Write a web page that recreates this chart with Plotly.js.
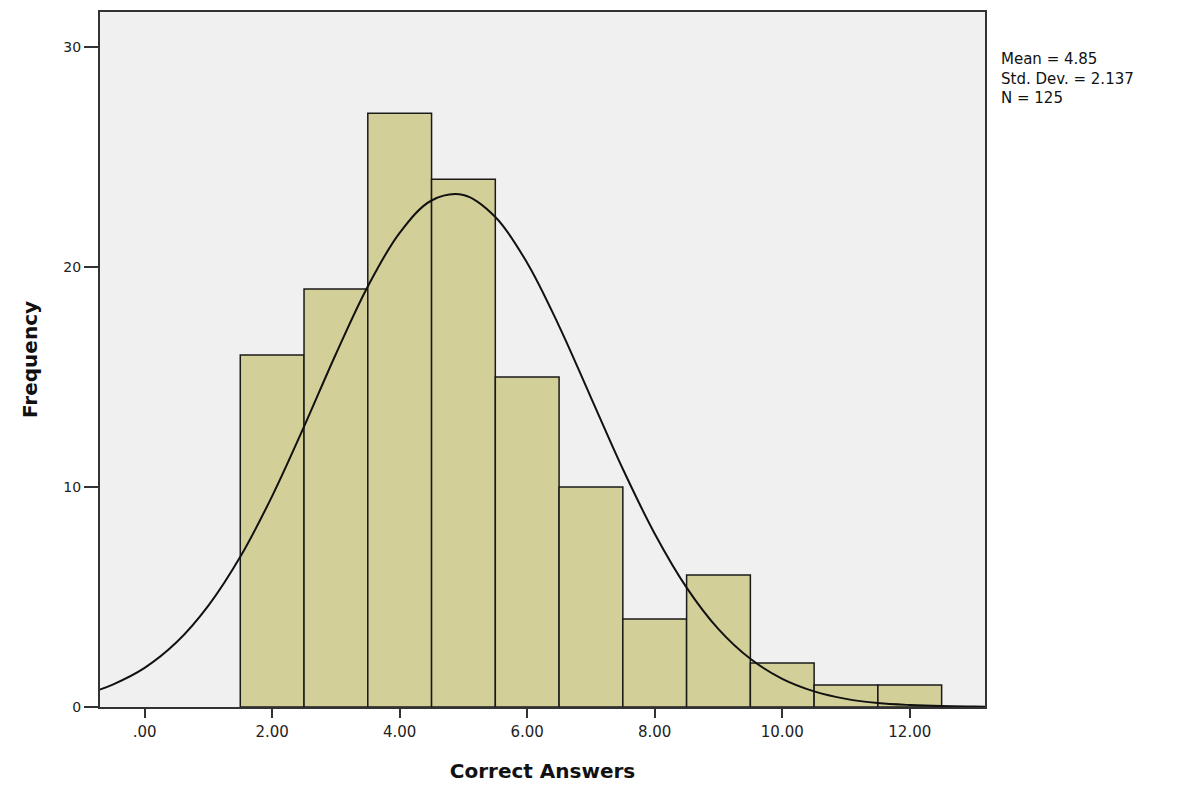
<!DOCTYPE html>
<html>
<head>
<meta charset="utf-8">
<script src="https://cdn.plot.ly/plotly-3.0.1.min.js"></script>
<style>html,body{margin:0;padding:0;background:#fff;}#chart{width:1180px;height:785px;}</style>
</head>
<body>
<div id="chart"></div>
<script>
// Histogram bins (centers) and frequencies
const binCenters = [2, 3, 4, 5, 6, 7, 8, 9, 10, 11, 12];
const frequencies = [16, 19, 27, 24, 15, 10, 4, 6, 2, 1, 1];

// Normal curve points
const curveX = [-0.75, -0.5, 0, 0.5, 1, 1.5, 2, 2.5, 3, 3.5, 4, 4.5, 5, 5.5, 6, 6.5, 7, 7.5, 8, 8.5, 9, 9.5, 10, 10.5, 11, 11.5, 12, 12.5, 13, 13.5];
const curveY = [0.75, 1.02, 1.78, 2.94, 4.61, 6.83, 9.59, 12.75, 16.05, 19.12, 21.56, 23.03, 23.28, 22.28, 20.19, 17.32, 14.07, 10.82, 7.88, 5.43, 3.54, 2.19, 1.28, 0.71, 0.37, 0.18, 0.09, 0.04, 0.02, 0.01];

const xTickVals = [0, 2, 4, 6, 8, 10, 12];
const xTickText = ['.00', '2.00', '4.00', '6.00', '8.00', '10.00', '12.00'];
const yTickVals = [0, 10, 20, 30];

const statsLines = ['Mean = 4.85', 'Std. Dev. = 2.137', 'N = 125'];

const traces = [
  {
    type: 'bar',
    x: binCenters,
    y: frequencies,
    width: 1,
    marker: {color: '#d3cf98', line: {color: '#1a1a1a', width: 1.5}},
    hoverinfo: 'x+y'
  },
  {
    type: 'scatter',
    mode: 'lines',
    x: curveX,
    y: curveY,
    line: {color: '#111111', width: 2, shape: 'spline', smoothing: 1},
    hoverinfo: 'skip'
  }
];

const layout = {
  width: 1180,
  height: 785,
  margin: {l: 100, r: 195, t: 12, b: 78, pad: 0},
  paper_bgcolor: '#ffffff',
  plot_bgcolor: '#f0f0f0',
  showlegend: false,
  font: {family: 'DejaVu Sans, Verdana, sans-serif', color: '#111'},
  xaxis: {
    range: [-0.7, 13.18],
    tickvals: xTickVals,
    ticktext: xTickText,
    ticks: 'outside',
    ticklen: 9,
    tickwidth: 2,
    tickcolor: '#333',
    ticklabelstandoff: 1,
    tickfont: {size: 15, color: '#222'},
    showgrid: false,
    zeroline: false,
    showline: true,
    linecolor: '#333',
    linewidth: 2,
    mirror: true,
    title: {text: 'Correct Answers', font: {size: 20, family: 'DejaVu Sans, Verdana, sans-serif', weight: 'bold', color: '#111'}, standoff: 24}
  },
  yaxis: {
    range: [0, 31.6],
    tickvals: yTickVals,
    ticks: 'outside',
    ticklen: 14,
    tickwidth: 2,
    tickcolor: '#333',
    ticklabelstandoff: 0,
    tickfont: {size: 14, color: '#222'},
    showgrid: false,
    zeroline: false,
    showline: true,
    linecolor: '#333',
    linewidth: 2,
    mirror: true,
    title: {text: 'Frequency', font: {size: 20, family: 'DejaVu Sans, Verdana, sans-serif', weight: 'bold', color: '#111'}, standoff: 20}
  },
  annotations: [
    {
      xref: 'paper', yref: 'paper',
      x: 1.016, y: 0.948,
      xanchor: 'left', yanchor: 'top',
      align: 'left',
      showarrow: false,
      text: statsLines.join('<br>'),
      font: {size: 15, color: '#111', family: 'DejaVu Sans, Verdana, sans-serif'}
    }
  ]
};

Plotly.newPlot('chart', traces, layout, {displayModeBar: false, staticPlot: true});
</script>
</body>
</html>
